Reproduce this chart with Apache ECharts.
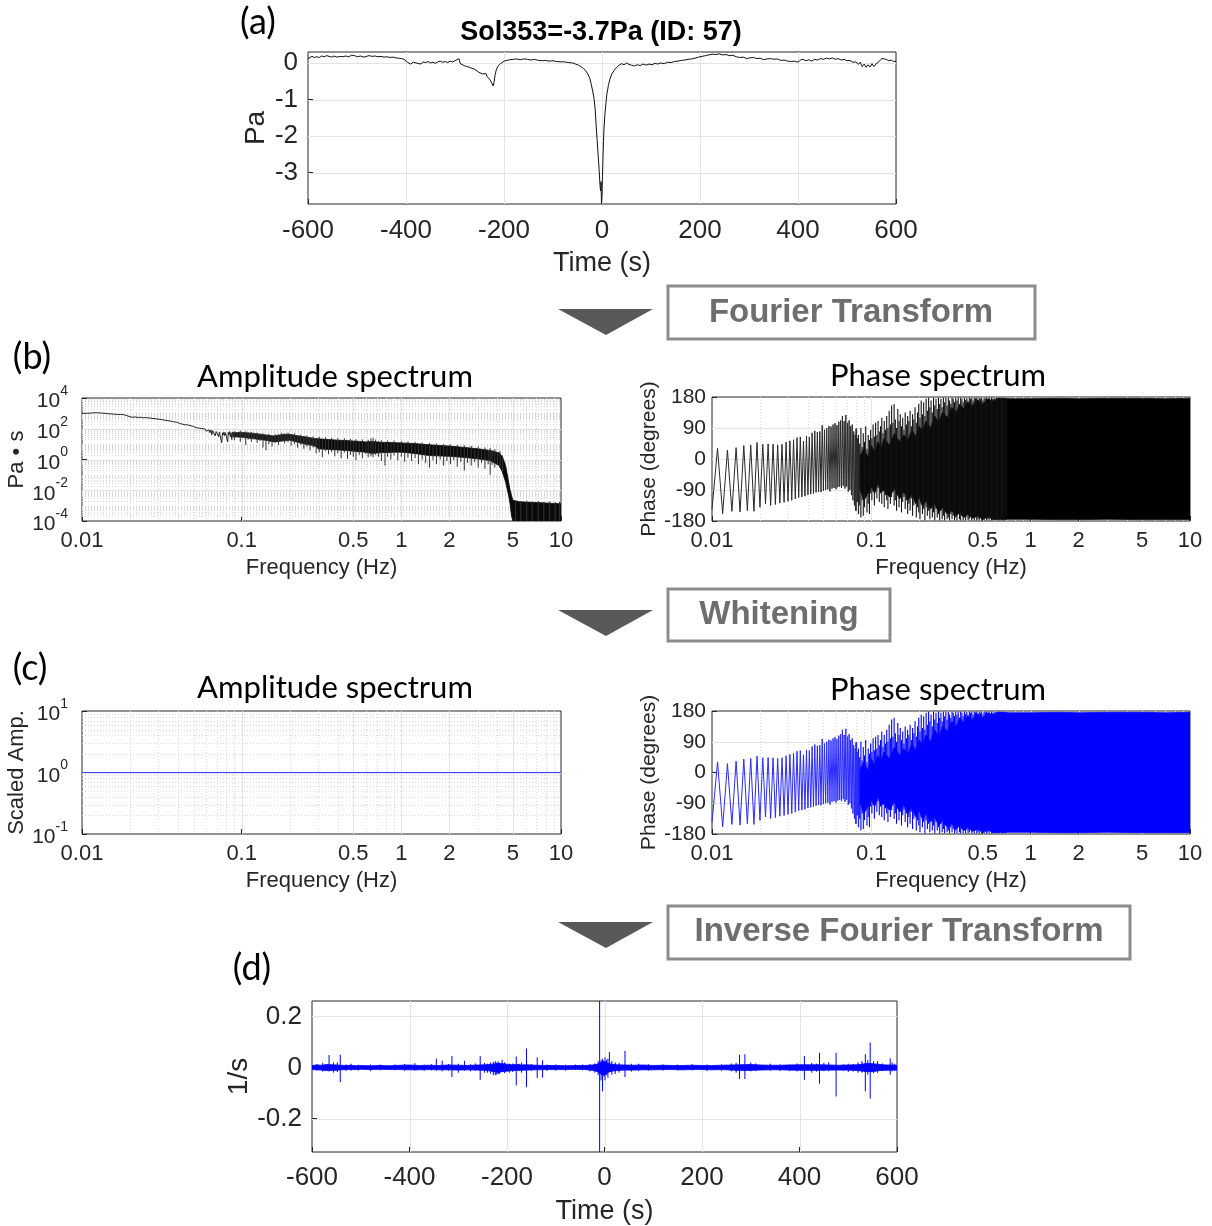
<!DOCTYPE html>
<html><head><meta charset="utf-8">
<script src="https://cdn.jsdelivr.net/npm/echarts@6/dist/echarts.min.js"></script>
<style>html,body{margin:0;padding:0;background:#fff}#c{width:1212px;height:1226px}</style>
</head><body><div id="c"></div>
<script>
// ---------- (a) pressure time series ----------
const presT = [-600,-596,-592,-587,-582,-577,-572,-567,-562,-557,-552,-547,-541,-535,-529,-523,-517,-511,-505,-499,-493,-487,-481,-475,-469,-463,-457,-451,-445,-439,-433,-427,-421,-415,-409,-404,-400,-397,-394,-391,-388,-385,-381,-377,-373,-369,-365,-360,-355,-350,-345,-340,-335,-330,-325,-320,-315,-310,-305,-300,-296,-292,-289,-285,-280,-275,-270,-265,-260,-256,-252,-248,-244,-240,-237,-234,-231,-228,-225,-222,-220,-218,-216,-213,-209,-205,-200,-194,-188,-181,-174,-167,-160,-152,-145,-138,-130,-122,-115,-108,-100,-92,-84,-76,-68,-60,-54,-48,-43,-38,-33,-29,-25,-22,-19,-16,-14,-12,-10,-8,-6,-4,-3,-2,-1,0,1,2,3,4,6,8,10,13,16,20,25,30,35,40,45,50,55,60,66,72,78,84,90,96,102,108,114,120,127,134,141,148,155,162,169,176,183,190,197,204,211,218,225,232,239,246,253,260,267,274,281,288,295,302,309,316,323,330,337,344,351,358,365,372,379,386,393,400,405,410,416,422,428,434,440,446,452,458,464,470,476,482,488,494,500,506,512,518,523,527,531,535,539,543,547,551,555,559,563,567,571,575,580,585,590,595,600];
const presP = [0.12,0.17,0.18,0.15,0.17,0.15,0.19,0.17,0.2,0.18,0.16,0.19,0.16,0.18,0.17,0.19,0.17,0.21,0.2,0.17,0.19,0.16,0.18,0.2,0.18,0.19,0.17,0.18,0.16,0.17,0.15,0.16,0.14,0.13,0.12,0.1,0.07,0.02,0.04,-0.03,-0.05,0.02,0.05,-0.01,0.0,-0.03,0.03,0.01,0.04,0.0,0.02,-0.01,0.03,0.05,0.02,0.04,0.01,0.05,0.03,0.06,0.04,0.12,-0.02,-0.05,-0.08,-0.1,-0.12,-0.15,-0.17,-0.2,-0.25,-0.28,-0.3,-0.33,-0.29,-0.38,-0.43,-0.47,-0.55,-0.63,-0.5,-0.32,-0.2,-0.1,-0.04,0.01,0.05,0.07,0.09,0.1,0.11,0.09,0.11,0.1,0.08,0.1,0.07,0.06,0.07,0.05,0.06,0.04,0.03,0.03,0.01,0.0,-0.03,-0.06,-0.1,-0.15,-0.22,-0.3,-0.42,-0.58,-0.77,-1.0,-1.25,-1.7,-2.1,-2.5,-2.9,-3.35,-3.5,-3.25,-3.86,-3.6,-3.1,-2.6,-2.15,-1.8,-1.4,-1.1,-0.85,-0.62,-0.45,-0.3,-0.2,-0.12,-0.06,-0.02,-0.05,0.0,-0.04,-0.06,-0.08,-0.05,-0.07,-0.03,-0.06,-0.03,-0.05,-0.01,-0.03,0.0,-0.02,0.02,0.01,0.04,0.05,0.07,0.08,0.1,0.11,0.13,0.16,0.18,0.2,0.22,0.24,0.23,0.25,0.22,0.23,0.2,0.21,0.17,0.15,0.16,0.12,0.14,0.15,0.12,0.13,0.09,0.11,0.12,0.1,0.11,0.07,0.08,0.05,0.04,0.05,0.02,0.08,0.1,0.06,0.09,0.05,0.1,0.08,0.12,0.1,0.13,0.11,0.14,0.1,0.12,0.08,0.1,0.06,0.07,0.02,0.03,-0.04,0.02,-0.1,-0.03,-0.12,-0.05,-0.11,-0.02,-0.1,-0.03,0.02,0.06,0.12,0.08,0.1,0.06,0.08,0.04,0.05];
const timeTicks = [-600,-400,-200,0,200,400,600];
const presTicks = [-3,-2,-1,0];

// ---------- (b) amplitude spectrum ----------
const ampLow = [[0.01,1000],[0.0108,1020],[0.0117,1080],[0.0125,1100],[0.0133,1050],[0.0142,990],[0.015,930],[0.0158,900],[0.0167,850],[0.0175,860],[0.0183,820],[0.0192,700],[0.02,600],[0.0208,560],[0.0217,580],[0.0225,540],[0.0233,560],[0.0242,520],[0.025,540],[0.0258,500],[0.0267,510],[0.0275,470],[0.0283,480],[0.0292,440],[0.03,430],[0.0308,410],[0.0317,400],[0.0325,370],[0.0333,350],[0.0342,340],[0.035,310],[0.0358,320],[0.0367,290],[0.0375,280],[0.0383,260],[0.0392,270],[0.04,240],[0.0408,220],[0.0417,230],[0.0425,200],[0.0433,210],[0.0442,180],[0.045,170],[0.0458,180],[0.0467,150],[0.0475,160],[0.0483,135],[0.0492,145],[0.05,120],[0.0508,130],[0.0517,105],[0.0525,115],[0.0533,95],[0.0542,110],[0.055,90],[0.0558,105],[0.0567,80],[0.0575,100],[0.0583,75],[0.0592,95],[0.06,70],[0.0608,90],[0.0617,60],[0.0625,85],[0.0633,55],[0.0642,80],[0.065,40],[0.0658,75],[0.0667,55],[0.0675,70],[0.0683,35],[0.0692,65],[0.07,50],[0.0708,72],[0.0717,30],[0.0725,60],[0.0733,45],[0.0742,58],[0.075,12],[0.0758,55],[0.0767,40],[0.0775,60],[0.0783,35],[0.0792,55],[0.08,48],[0.0808,62],[0.0817,14],[0.0825,58],[0.0833,40],[0.0842,65],[0.085,30],[0.0858,55],[0.0867,20],[0.0875,60],[0.0883,45],[0.0892,58],[0.09,35]];
const ampMidF  = [0.088,0.1,0.12,0.14,0.16,0.18,0.2,0.22,0.25,0.28,0.3];
const ampMidHi = [55,58,50,40,34,42,44,36,30,24,22];
const ampMidLo = [30,28,22,18,14,16,18,14,10,8,6];
const ampBandF  = [0.3,0.35,0.4,0.45,0.5,0.55,0.6,0.65,0.7,0.75,0.8,0.9,1,1.2,1.5,2,2.4,3,3.6,4.1,4.3,4.5,4.6,4.7,4.8,4.9,5.0,5.5,6,7,8,9,10];
const ampBandHi = [22,20,18,17,16,15,14,15,14,13,13,12.5,12,11,9,7.5,6.3,5,3.9,2.7,1.5,0.4,0.12,0.033,0.01,0.0045,0.0022,0.0018,0.0017,0.0016,0.0015,0.0014,0.0013];
const ampBandLo = [5,4.5,4.2,3.9,3.5,3.2,3,2.5,2.6,2.8,2.8,3,3,2.5,1.8,1.6,1.4,1.1,0.85,0.4,0.15,0.033,0.012,0.0045,0.0012,0.0002,0.0001,0.0001,0.0001,0.0001,0.0001,0.0001,0.0001];
const ampSpikes = [[0.09,70,18],[0.094,58,30],[0.098,75,14],[0.102,60,25],[0.106,68,9],[0.11,58,20],[0.115,62,14],[0.12,52,22],[0.125,55,12],[0.13,44,16],[0.136,50,6],[0.142,40,4],[0.148,46,10],[0.155,36,7],[0.162,45,12],[0.17,44,9],[0.178,55,15],[0.186,50,11],[0.195,56,13],[0.204,45,8],[0.214,50,10],[0.224,38,6],[0.234,42,9],[0.245,32,5],[0.256,36,7],[0.268,28,4],[0.28,32,6],[0.293,24,2.5],[0.306,30,3],[0.32,22,1.4],[0.335,28,3.5],[0.35,20,2.2],[0.366,26,3],[0.383,19,1.6],[0.4,25,2.5],[0.42,17,1.2],[0.44,24,2.8],[0.46,16,1.1],[0.48,22,2],[0.5,16,1.5],[0.52,21,0.9],[0.545,15,2],[0.57,20,1.2],[0.6,14,2.2],[0.62,19,1.4],[0.645,24,1.6],[0.665,26,1.4],[0.69,20,2],[0.72,16,1.5],[0.75,18,0.8],[0.79,13,0.4],[0.82,17,1.5],[0.86,12.5,1],[0.9,17,1.8],[0.95,12,0.9],[1.0,16,1.5],[1.05,11.5,0.7],[1.1,15,1.3],[1.16,11,0.8],[1.22,14,1.2],[1.28,10,0.5],[1.35,13,1],[1.42,9.5,0.6],[1.5,12,0.3],[1.58,9,0.9],[1.66,11,0.5],[1.75,8,1],[1.84,10,0.4],[1.93,7.5,0.8],[2.03,9.5,0.5],[2.13,7,0.9],[2.24,9,0.35],[2.36,6.5,0.7],[2.48,8.5,0.19],[2.6,6,0.6],[2.74,7.8,0.4],[2.88,5.5,0.7],[3.03,7,0.3],[3.18,4.8,0.6],[3.34,6,0.25],[3.5,4.2,0.5],[3.6,5.5,0.1],[3.7,3.8,0.45],[3.85,4.8,0.3],[4.0,3,0.5],[4.15,3.6,0.3],[4.3,1.8,0.12],[5.2,0.0022,0.0001],[5.6,0.002,0.0001],[6.1,0.0021,0.0001],[6.6,0.0019,0.0001],[7.2,0.002,0.0001],[7.8,0.0018,0.0001],[8.5,0.0019,0.0001],[9.2,0.0017,0.0001],[9.8,0.0018,0.0001]];

// ---------- phase spectrum (same phase before and after whitening) ----------
const phaseLowF = [0.01,0.010833,0.011667,0.0125,0.013333,0.014167,0.015,0.015833,0.016667,0.0175,0.018333,0.019167,0.02,0.020833,0.021667,0.0225,0.023333,0.024167,0.025,0.025833,0.026667,0.0275,0.028333,0.029167,0.03,0.030833,0.031667,0.0325,0.033333,0.034167,0.035,0.035833,0.036667,0.0375,0.038333,0.039167,0.04,0.040833,0.041667,0.0425,0.043333,0.044167,0.045,0.045833,0.046667,0.0475,0.048333,0.049167,0.05,0.050833,0.051667,0.0525,0.053333,0.054167,0.055,0.055833,0.056667,0.0575,0.058333,0.059167,0.06,0.060833,0.061667,0.0625,0.063333,0.064167,0.065,0.065833,0.066667,0.0675,0.068333,0.069167,0.07,0.070833,0.071667,0.0725,0.073333,0.074167,0.075,0.075833,0.076667,0.0775,0.078333,0.079167,0.08,0.080833,0.081667,0.0825,0.083333];
const phaseLow = [-146,31,-159,26,-152,33,-154,39,-150,41,-152,48,-140,43,-130,44,-135,43,-132,41,-128,43,-126,49,-123,53,-120,56,-116,62,-112,64,-110,52,-108,66,-104,64,-102,76,-100,82,-97,78,-95,80,-96,98,-92,85,-90,90,-88,96,-94,94,-86,100,-84,104,-88,98,-82,108,-80,112,-84,125,-78,110,-86,128,-80,105,-95,112,-90,95,-105,100,-120,80,-135,70,-150,88,-125,60,-160];
const phaseBandF  = [0.085,0.09,0.095,0.1,0.105,0.11,0.115,0.12,0.13,0.14,0.15,0.16,0.17,0.18,0.19,0.2,0.21,0.22,0.235,0.25,0.265,0.28,0.3,0.32,0.34,0.36,0.38,0.4,0.43,0.46,0.5,0.54,0.58,0.62,0.7,0.8,1,1.5,2,3,5,7,10];
const phaseBandHi = [10,30,5,40,20,50,30,60,40,75,50,70,55,85,65,95,80,110,90,125,105,135,120,150,135,160,145,165,155,172,160,175,168,176,175,175,175,176,175,176,176,175,176];
const phaseBandLo = [-90,-120,-100,-80,-100,-70,-95,-90,-110,-85,-115,-95,-120,-100,-130,-110,-140,-120,-145,-130,-155,-140,-160,-150,-165,-155,-170,-160,-172,-165,-175,-168,-176,-175,-175,-175,-175,-176,-176,-175,-176,-176,-176];
const phaseSpikes = [[0.080,88,-150],[0.0815,60,-125],[0.083,70,-160],[0.0845,45,-135],[0.086,90,-170],[0.0875,35,-120],[0.089,75,-165],[0.0906,50,-140],[0.0922,95,-110],[0.0939,30,-155],[0.0956,70,-130],[0.0973,55,-160],[0.099,85,-100],[0.1008,60,-120],[0.1026,100,-95],[0.1045,65,-135],[0.1064,105,-90],[0.1083,70,-115],[0.1102,110,-85],[0.1122,80,-125],[0.1142,95,-100],[0.1163,120,-130],[0.1184,75,-95],[0.1205,110,-140],[0.1227,85,-105],[0.1249,125,-120],[0.1271,90,-145],[0.1294,140,-100],[0.1317,100,-130],[0.1341,155,-110],[0.1365,105,-95],[0.139,160,-135],[0.1415,115,-120],[0.144,90,-150],[0.1466,145,-105],[0.1492,110,-140],[0.1519,130,-115],[0.1546,95,-155],[0.1574,120,-125],[0.1602,85,-110],[0.1631,135,-145],[0.166,100,-120],[0.169,125,-160],[0.172,110,-130],[0.1751,140,-150],[0.1783,95,-115],[0.1815,130,-165],[0.1848,115,-135],[0.1881,150,-125],[0.1915,105,-170],[0.1949,135,-140],[0.1984,160,-155],[0.202,120,-175],[0.2056,170,-130],[0.2093,130,-160],[0.2131,165,-145],[0.2169,125,-178],[0.2208,175,-140],[0.2248,140,-165],[0.2288,178,-150],[0.2329,150,-175],[0.2371,170,-135],[0.2414,135,-170],[0.2457,178,-155],[0.2501,155,-178],[0.2546,175,-145],[0.2592,145,-170],[0.2639,178,-160],[0.2686,160,-178],[0.2734,175,-150],[0.2783,150,-175],[0.2833,178,-165],[0.2884,165,-178],[0.2936,178,-155],[0.2989,155,-175],[0.3043,178,-170],[0.3098,170,-178],[0.3154,160,-160],[0.321,178,-175],[0.3268,175,-165],[0.3327,165,-178],[0.3387,178,-170],[0.3448,170,-178],[0.351,178,-160],[0.3573,160,-175],[0.3637,178,-178],[0.3703,175,-165],[0.3769,165,-178],[0.3837,178,-170],[0.3906,172,-178],[0.3976,178,-168],[0.4048,168,-178],[0.4121,178,-175],[0.4195,175,-165],[0.427,178,-178],[0.4347,170,-172],[0.4425,178,-178],[0.4505,176,-170],[0.4586,178,-178],[0.4669,172,-175],[0.4753,178,-178],[0.4838,175,-170],[0.4925,178,-178],[0.5014,170,-176],[0.5104,178,-178],[0.5196,176,-172],[0.529,178,-178],[0.5385,165,-175],[0.5482,178,-178],[0.558,172,-170],[0.5681,178,-178],[0.5783,175,-176],[0.5887,178,-178],[0.5993,176,-174],[0.6101,178,-178],[0.6211,175,-176],[0.6322,178,-178],[0.6436,177,-175],[0.6552,178,-178],[0.667,176,-177],[0.679,178,-178],[0.6912,177,-178],[0.7037,178,-176]];

// ---------- (c) whitened amplitude ----------
const whiteF = [0.01,10];
const whiteA = [1,1];

// ---------- (d) whitened time series ----------
const wBandT  = [-600,-590,-580,-570,-560,-550,-540,-530,-520,-510,-500,-480,-460,-440,-420,-400,-380,-360,-340,-320,-300,-280,-260,-240,-230,-220,-210,-200,-190,-180,-170,-160,-140,-120,-100,-80,-60,-40,-25,-15,-8,-3,3,8,15,25,40,60,80,100,120,140,160,180,200,220,240,260,280,300,320,340,360,380,400,420,440,460,480,500,520,530,540,550,560,570,580,590,600];
const wBandHi = [0.008,0.01,0.009,0.012,0.011,0.01,0.009,0.008,0.009,0.007,0.008,0.007,0.008,0.007,0.009,0.01,0.008,0.009,0.008,0.01,0.009,0.008,0.01,0.011,0.013,0.016,0.015,0.013,0.011,0.012,0.01,0.011,0.009,0.008,0.008,0.007,0.008,0.008,0.01,0.013,0.02,0.025,0.02,0.016,0.013,0.011,0.01,0.009,0.01,0.008,0.009,0.008,0.008,0.009,0.008,0.008,0.009,0.01,0.011,0.012,0.01,0.009,0.009,0.01,0.011,0.011,0.011,0.01,0.009,0.01,0.011,0.014,0.016,0.015,0.013,0.011,0.01,0.01,0.009];
const wBandLo = [-0.008,-0.009,-0.01,-0.012,-0.012,-0.011,-0.009,-0.008,-0.008,-0.008,-0.007,-0.008,-0.007,-0.008,-0.008,-0.009,-0.009,-0.008,-0.009,-0.009,-0.01,-0.009,-0.01,-0.012,-0.015,-0.019,-0.016,-0.014,-0.012,-0.011,-0.011,-0.01,-0.009,-0.008,-0.008,-0.008,-0.007,-0.008,-0.011,-0.015,-0.025,-0.03,-0.025,-0.018,-0.014,-0.012,-0.01,-0.01,-0.009,-0.009,-0.008,-0.008,-0.009,-0.008,-0.008,-0.009,-0.008,-0.01,-0.012,-0.011,-0.01,-0.009,-0.009,-0.01,-0.011,-0.011,-0.011,-0.01,-0.01,-0.01,-0.012,-0.014,-0.016,-0.016,-0.013,-0.011,-0.011,-0.01,-0.01];
const wSpikes = [[-565,0.049,-0.015],[-556,0.02,-0.02],[-542,0.05,-0.057],[-520,0.015,-0.012],[-480,0.012,-0.014],[-430,0.012,-0.01],[-389,0.017,-0.012],[-345,0.035,-0.012],[-333,0.027,-0.015],[-313,0.045,-0.037],[-300,0.015,-0.02],[-287,0.026,-0.012],[-255,0.045,-0.048],[-240,0.015,-0.02],[-228,0.022,-0.03],[-221,0.02,-0.028],[-215,0.018,-0.025],[-210,0.03,-0.015],[-195,0.015,-0.02],[-181,0.043,-0.07],[-170,0.02,-0.02],[-160,0.074,-0.077],[-138,0.04,-0.041],[-127,0.028,-0.039],[-100,0.012,-0.012],[-60,0.012,-0.01],[-30,0.013,-0.015],[-10,0.27,-0.34],[-7,0.03,-0.05],[-4,0.034,-0.093],[-1,0.025,-0.035],[4,0.03,-0.03],[10,0.06,-0.018],[22,0.02,-0.025],[42,0.065,-0.037],[70,0.015,-0.013],[120,0.012,-0.012],[180,0.013,-0.011],[240,0.012,-0.013],[277,0.05,-0.045],[288,0.052,-0.045],[300,0.02,-0.015],[340,0.015,-0.012],[380,0.012,-0.014],[410,0.045,-0.048],[425,0.018,-0.02],[441,0.058,-0.063],[460,0.02,-0.015],[475,0.058,-0.113],[500,0.015,-0.018],[520,0.02,-0.02],[535,0.052,-0.093],[545,0.098,-0.121],[560,0.025,-0.02],[586,0.036,-0.028],[595,0.015,-0.012]];
const wSmallSpikes = [[-590,0.014,-0.012],[-578,0.018,-0.016],[-548,0.02,-0.018],[-530,0.012,-0.013],[-505,0.011,-0.012],[-460,0.012,-0.011],[-410,0.014,-0.012],[-370,0.011,-0.013],[-355,0.013,-0.011],[-320,0.014,-0.012],[-275,0.013,-0.015],[-265,0.016,-0.012],[-246,0.018,-0.02],[-234,0.02,-0.024],[-224,0.025,-0.03],[-218,0.024,-0.026],[-205,0.02,-0.022],[-188,0.016,-0.018],[-175,0.015,-0.014],[-150,0.014,-0.012],[-118,0.012,-0.013],[-80,0.011,-0.012],[-45,0.012,-0.011],[-20,0.016,-0.02],[-13,0.025,-0.03],[1,0.04,-0.05],[7,0.035,-0.04],[15,0.025,-0.028],[30,0.018,-0.02],[55,0.015,-0.016],[90,0.013,-0.012],[150,0.012,-0.011],[210,0.012,-0.013],[260,0.016,-0.015],[270,0.018,-0.02],[310,0.016,-0.014],[360,0.012,-0.013],[395,0.016,-0.015],[435,0.015,-0.016],[450,0.018,-0.014],[490,0.012,-0.013],[510,0.014,-0.016],[528,0.025,-0.02],[540,0.03,-0.028],[552,0.025,-0.022],[570,0.016,-0.014],[590,0.02,-0.015]];
const wTicks = [-0.2,0,0.2];

// tick label positions
const freqTicks = [0.01,0.1,0.5,1,2,5,10];
const ampTicksB = [1e-4,1e-2,1,1e2,1e4];
const ampTicksC = [0.1,1,10];

// ================= drawing =================
const FS = "'Liberation Sans', Arial, Helvetica, sans-serif";
const FC = "Lato, 'Open Sans', sans-serif";
const AX = '#262626';
const BLUE = '#0000ff';

function logDecadeMinors(lo, hi, skip) {
  const out = [];
  for (let d = lo; d < hi; d++) {
    for (let m = 1; m <= 9; m++) {
      const v = +(m * Math.pow(10, d)).toPrecision(3);
      if (v <= Math.pow(10, lo) || skip.indexOf(v) >= 0) continue;
      out.push(v);
    }
  }
  return out;
}
const freqMajor = [0.1,0.5,1,2,5];
const freqMinor = logDecadeMinors(-2, 1, [0.01,0.1,0.5,1,2,5,10]);

function gridSeries(xi, xMaj, xMin, yMaj, yMin, xRef, yRef) {
  const items = [];
  xMaj.forEach(v => items.push({d:0, m:0, v:[v, yRef]}));
  xMin.forEach(v => items.push({d:0, m:1, v:[v, yRef]}));
  yMaj.forEach(v => items.push({d:1, m:0, v:[xRef, v]}));
  yMin.forEach(v => items.push({d:1, m:1, v:[xRef, v]}));
  return {type:'custom', xAxisIndex:xi, yAxisIndex:xi, z:1, silent:true, clip:false,
    data: items.map(it => it.v), encode:{x:0, y:1},
    renderItem(params, api) {
      const it = items[params.dataIndex]; const cs = params.coordSys;
      const p = api.coord(it.v);
      const style = it.m ? {stroke:'#d9d9d9', lineWidth:1, lineDash:[1,2]} : {stroke:'#e3e3e3', lineWidth:1};
      let shape;
      if (it.d === 0) { const x = Math.round(p[0]) + 0.5; shape = {x1:x, y1:cs.y, x2:x, y2:cs.y + cs.height}; }
      else { const y = Math.round(p[1]) + 0.5; shape = {x1:cs.x, y1:y, x2:cs.x + cs.width, y2:y}; }
      return {type:'line', shape, style};
    }};
}
function bandSeries(xi, F, HI, LO, color) {
  return {type:'custom', xAxisIndex:xi, yAxisIndex:xi, z:3, silent:true, clip:true,
    data: F.map((f, i) => [f, HI[i], LO[i]]), encode:{x:0, y:[1,2]},
    renderItem(params, api) {
      if (params.dataIndex !== 0) return null;
      const pts = [];
      for (let i = 0; i < F.length; i++) pts.push(api.coord([F[i], HI[i]]));
      for (let i = F.length - 1; i >= 0; i--) pts.push(api.coord([F[i], LO[i]]));
      return {type:'polygon', shape:{points:pts}, style:{fill:color, stroke:color, lineWidth:0.8}};
    }};
}
function spikeSeries(xi, items, color, lw) {
  return {type:'custom', xAxisIndex:xi, yAxisIndex:xi, z:4, silent:true, clip:true,
    data: items, encode:{x:0, y:[1,2]},
    renderItem(params, api) {
      const a = api.coord([api.value(0), api.value(1)]);
      const b = api.coord([api.value(0), api.value(2)]);
      return {type:'line', shape:{x1:a[0], y1:a[1], x2:b[0], y2:b[1]}, style:{stroke:color, lineWidth:lw}};
    }};
}
function lineSeries(xi, data, color, w) {
  return {type:'line', xAxisIndex:xi, yAxisIndex:xi, z:5, data, showSymbol:false, symbol:'none',
    lineStyle:{color, width:w}, silent:true, clip:true};
}

const tickStyle = {show:true, inside:true, length:5, lineStyle:{color:AX, width:1}};
const noLine = {show:false, onZero:false};
function supLabel(v) { return '{b|10}{s|' + Math.round(Math.log10(v)) + '}'; }
const supRich = {b:{fontFamily:FS, fontSize:21, color:AX, lineHeight:28, verticalAlign:'bottom'},
                 s:{fontFamily:FS, fontSize:14, color:AX, lineHeight:28, verticalAlign:'top'}};

function freqAxis(gi) {
  return {type:'log', logBase:10, gridIndex:gi, min:0.01, max:10,
    name:'Frequency (Hz)', nameLocation:'middle', nameGap:36,
    nameTextStyle:{fontFamily:FS, fontSize:22, color:AX},
    axisLine:noLine, splitLine:{show:false},
    axisTick:Object.assign({customValues:freqTicks}, tickStyle),
    axisLabel:{customValues:freqTicks, formatter:v => String(+Number(v).toPrecision(3)),
      fontFamily:FS, fontSize:22, color:AX, margin:9}};
}
function timeAxis(gi, m) {
  return {type:'value', gridIndex:gi, min:-600, max:600, interval:200,
    name:'Time (s)', nameLocation:'middle', nameGap:46,
    nameTextStyle:{fontFamily:FS, fontSize:27, color:AX},
    axisLine:noLine, splitLine:{show:false}, axisTick:tickStyle,
    axisLabel:{fontFamily:FS, fontSize:26, color:AX, margin:m}};
}
function phaseAxis(gi) {
  return {type:'value', gridIndex:gi, min:-180, max:180, interval:90,
    name:'Phase (degrees)', nameLocation:'middle', nameGap:52,
    nameTextStyle:{fontFamily:FS, fontSize:21, color:AX},
    axisLine:noLine, splitLine:{show:false}, axisTick:tickStyle,
    axisLabel:{fontFamily:FS, fontSize:21, color:AX, margin:6}};
}

const grids = [
  {left:308, top:52, width:588, height:152},
  {left:82, top:398, width:479, height:123},
  {left:712, top:397, width:478, height:124},
  {left:82, top:711, width:479, height:123},
  {left:712, top:711, width:478, height:123},
  {left:312, top:1001, width:585, height:151}
].map(g => Object.assign({show:true, backgroundColor:'#fff', borderColor:AX, borderWidth:1, containLabel:false}, g));

const xAxes = [timeAxis(0, 14), freqAxis(1), freqAxis(2), freqAxis(3), freqAxis(4), timeAxis(5, 13)];
const yAxes = [
  {type:'value', gridIndex:0, min:-3.86, max:0.3, name:'Pa', nameLocation:'middle', nameGap:38,
    nameTextStyle:{fontFamily:FS, fontSize:28, color:AX},
    axisLine:noLine, splitLine:{show:false},
    axisTick:Object.assign({customValues:presTicks}, tickStyle),
    axisLabel:{customValues:presTicks, fontFamily:FS, fontSize:26, color:AX, margin:10}},
  {type:'log', logBase:10, gridIndex:1, min:1e-4, max:1e4, name:'Pa \u2022 s', nameLocation:'middle', nameGap:48,
    nameTextStyle:{fontFamily:FS, fontSize:22, color:AX},
    axisLine:noLine, splitLine:{show:false},
    axisTick:Object.assign({customValues:ampTicksB}, tickStyle),
    axisLabel:{customValues:ampTicksB, formatter:supLabel, rich:supRich, margin:14}},
  phaseAxis(2),
  {type:'log', logBase:10, gridIndex:3, min:0.1, max:10, name:'Scaled Amp.', nameLocation:'middle', nameGap:48,
    nameTextStyle:{fontFamily:FS, fontSize:22, color:AX},
    axisLine:noLine, splitLine:{show:false},
    axisTick:Object.assign({customValues:ampTicksC}, tickStyle),
    axisLabel:{customValues:ampTicksC, formatter:supLabel, rich:supRich, margin:14}},
  phaseAxis(4),
  {type:'value', gridIndex:5, min:-0.33, max:0.26, name:'1/s', nameLocation:'middle', nameGap:58,
    nameTextStyle:{fontFamily:FS, fontSize:28, color:AX},
    axisLine:noLine, splitLine:{show:false},
    axisTick:Object.assign({customValues:wTicks}, tickStyle),
    axisLabel:{customValues:wTicks, formatter:v => (Math.abs(v) < 1e-9 ? '0' : String(+Number(v).toFixed(1))),
      fontFamily:FS, fontSize:26, color:AX, margin:10}}
];

const ampMinorB = logDecadeMinors(-4, 4, [1e-4,1e-2,1,1e2,1e4]);
const ampMinorC = logDecadeMinors(-1, 1, [0.1,1,10]);

const series = [
  gridSeries(0, [-400,-200,0,200,400], [], presTicks, [], 0, 0),
  lineSeries(0, presT.map((t, i) => [t, presP[i]]), '#111', 1),

  gridSeries(1, freqMajor, freqMinor, [1e-2,1,1e2], ampMinorB, 1, 1),
  lineSeries(1, ampLow, '#222', 1),
  bandSeries(1, ampMidF, ampMidHi, ampMidLo, '#1a1a1a'),
  bandSeries(1, ampBandF, ampBandHi, ampBandLo, '#0a0a0a'),
  spikeSeries(1, ampSpikes, '#333', 1),

  gridSeries(2, freqMajor, freqMinor, [-90,0,90], [], 1, 0),
  bandSeries(2, phaseBandF, phaseBandHi, phaseBandLo, '#000'),
  spikeSeries(2, phaseSpikes, '#111', 1.1),
  lineSeries(2, phaseLowF.map((f, i) => [f, phaseLow[i]]), '#2a2a2a', 1),

  gridSeries(3, freqMajor, freqMinor, [1], ampMinorC, 1, 1),
  lineSeries(3, whiteF.map((f, i) => [f, whiteA[i]]), '#4040ff', 1),

  gridSeries(4, freqMajor, freqMinor, [-90,0,90], [], 1, 0),
  bandSeries(4, phaseBandF, phaseBandHi, phaseBandLo, BLUE),
  spikeSeries(4, phaseSpikes, BLUE, 1.1),
  lineSeries(4, phaseLowF.map((f, i) => [f, phaseLow[i]]), '#2a2aff', 1),

  gridSeries(5, [-400,-200,0,200,400], [], wTicks, [], 0, 0),
  bandSeries(5, wBandT, wBandHi, wBandLo, BLUE),
  spikeSeries(5, wSmallSpikes, BLUE, 1),
  spikeSeries(5, wSpikes, BLUE, 1)
];

function txt(x, y, text, font, fill) {
  return {type:'text', x, y, silent:true, z:100,
    style:{text, font, fill:fill || '#000', align:'center', verticalAlign:'middle'}};
}
function arrow(y) {
  return {type:'polygon', silent:true, z:100, shape:{points:[[558, y], [653, y], [606, y + 26]]}, style:{fill:'#595959'}};
}
function box(x, y, w, h) {
  return {type:'rect', silent:true, z:99, shape:{x, y, width:w, height:h}, style:{fill:'#fff', stroke:'#8c8c8c', lineWidth:3}};
}
const BOXFONT = "bold 33px 'Liberation Sans', Arial, sans-serif";
const graphic = [
  txt(258, 22, '(a)', "36px " + FC),
  txt(601, 33, 'Sol353=-3.7Pa (ID: 57)', "bold 27px 'Liberation Sans', Arial, sans-serif"),
  txt(32, 357, '(b)', "36px " + FC),
  txt(335, 377, 'Amplitude spectrum', "31px " + FC),
  txt(938, 376, 'Phase spectrum', "31px " + FC),
  txt(30, 668, '(c)', "36px " + FC),
  txt(335, 688, 'Amplitude spectrum', "31px " + FC),
  txt(938, 690, 'Phase spectrum', "31px " + FC),
  txt(252, 968, '(d)', "36px " + FC),
  arrow(309), box(668, 286, 367, 53), txt(851, 313, 'Fourier Transform', BOXFONT, '#6e6e6e'),
  arrow(610), box(668, 589, 222, 52), txt(779, 615, 'Whitening', BOXFONT, '#6e6e6e'),
  arrow(922), box(668, 906, 462, 53), txt(899, 932, 'Inverse Fourier Transform', BOXFONT, '#6e6e6e')
];

const chart = echarts.init(document.getElementById('c'), null, {renderer:'canvas'});
chart.setOption({animation:false, backgroundColor:'#fff', grid:grids, xAxis:xAxes, yAxis:yAxes, series, graphic});
</script></body></html>
